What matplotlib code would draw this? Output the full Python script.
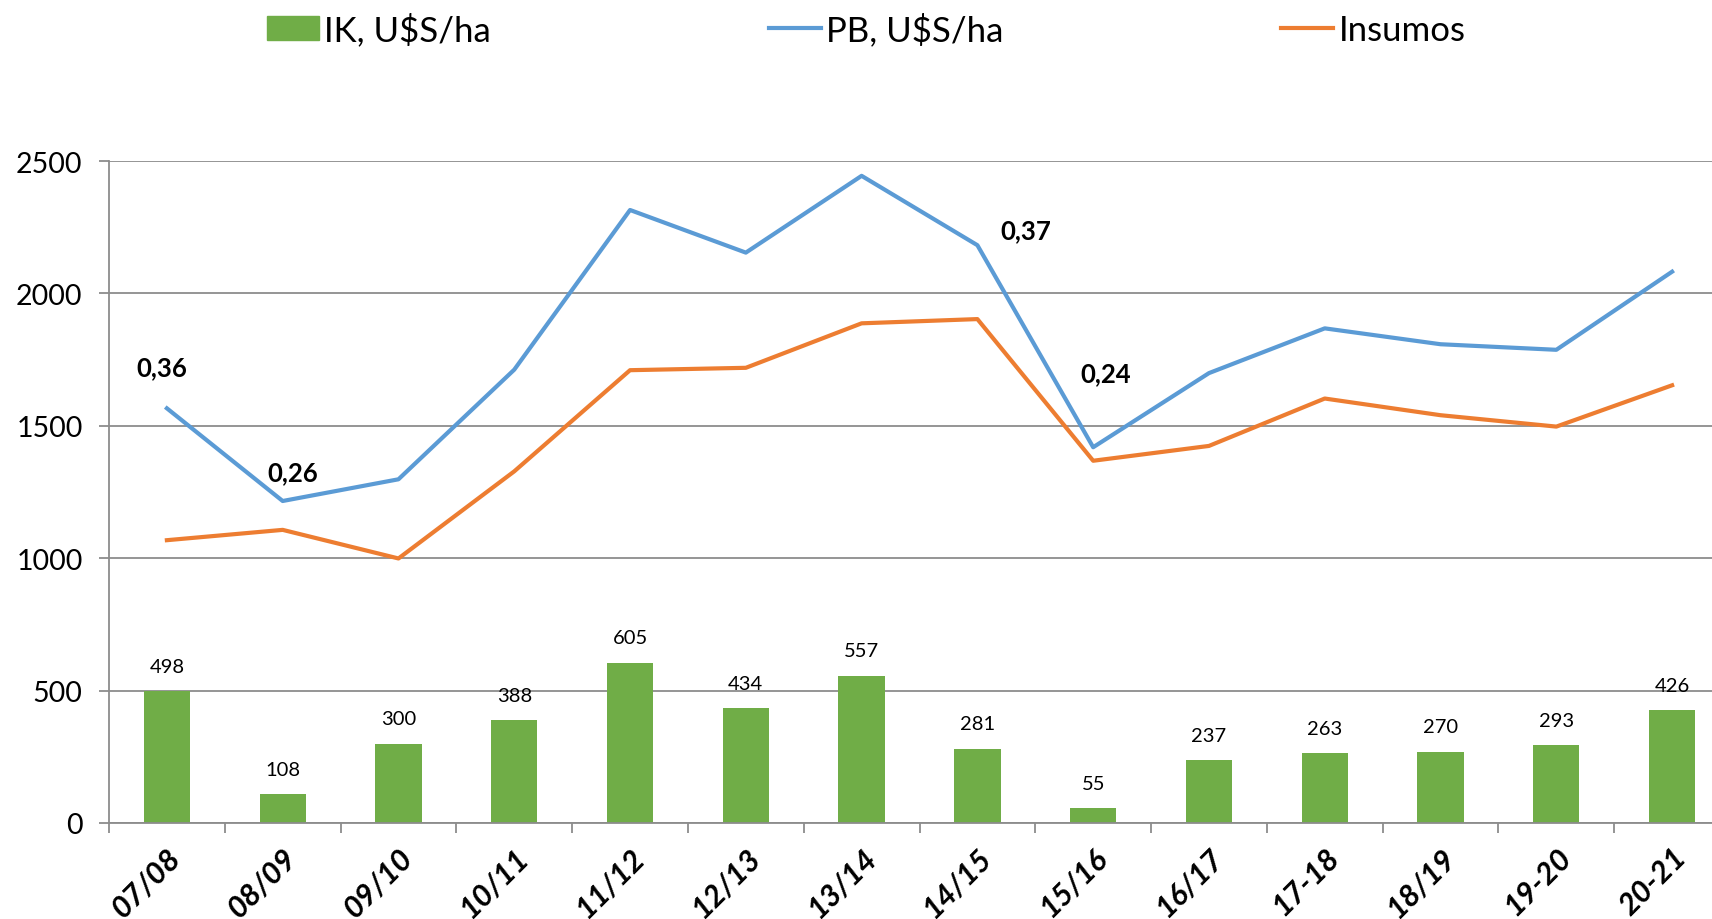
import numpy as np
import matplotlib.pyplot as plt
from matplotlib.patches import Patch
from matplotlib.lines import Line2D

plt.rcParams['font.family'] = ['Lato', 'DejaVu Sans']

# data
campaigns = ["07/08", "08/09", "09/10", "10/11", "11/12", "12/13", "13/14",
             "14/15", "15/16", "16/17", "17-18", "18/19", "19-20", "20-21"]
ik = [498, 108, 300, 388, 605, 434, 557, 281, 55, 237, 263, 270, 293, 426]
pb = [1566, 1216, 1298, 1712, 2315, 2154, 2444, 2182, 1419, 1699, 1868, 1808, 1787, 2082]
insumos = [1068, 1107, 999, 1328, 1710, 1719, 1887, 1903, 1368, 1424, 1603, 1540, 1497, 1653]
ratio_labels = ["0,36", "0,26", "0,37", "0,24"]
ratio_idx = [0, 1, 7, 8]

GREEN = "#70AD47"
BLUE = "#5B9BD5"
ORANGE = "#ED7D31"
GRID = "#8c8c8c"

fig = plt.figure(figsize=(17.12, 9.2), dpi=100)
# axes run slightly past the right border, as in the reference
ax = fig.add_axes([109 / 1712, 96 / 920, 1621 / 1712, 662 / 920])

x = np.arange(len(campaigns))
bars = ax.bar(x, ik, width=0.4, color=GREEN, zorder=2)
ax.plot(x, pb, color=BLUE, lw=3, zorder=3)
ax.plot(x, insumos, color=ORANGE, lw=3, zorder=3)

for xi, v in zip(x, ik):
    ax.annotate(str(v), (xi, v), xytext=(0, 18), textcoords="offset points",
                ha="center", va="center", fontsize=14.5)

# ratio annotations near the blue line (offsets in points)
offsets = [(-4, 30), (7, 21), (35, 11), (9, 53)]
for lab, i, off in zip(ratio_labels, ratio_idx, offsets):
    ax.annotate(lab, (x[i], pb[i]), xytext=off, textcoords="offset points",
                ha="center", va="center", fontsize=18.5, fontweight="bold")

ax.set_xlim(-0.5, len(campaigns) - 0.5)
ax.set_ylim(0, 2500)
ax.set_yticks([0, 500, 1000, 1500, 2000, 2500])
ax.yaxis.grid(True, color=GRID, lw=1.3, zorder=0)
ax.set_axisbelow(True)

ax.set_xticks(x)
ax.set_xticklabels(campaigns, rotation=45, ha="right", va="top",
                   rotation_mode="anchor", fontsize=22, fontweight="bold",
                   fontstyle="italic")
ax.set_xticks(np.arange(-0.5, len(campaigns), 1), minor=True)
ax.tick_params(axis="x", which="major", length=0, pad=14)
ax.tick_params(axis="x", which="minor", length=7, color=GRID, width=1.3)
ax.tick_params(axis="y", length=7, color=GRID, width=1.3, pad=12, labelsize=20.5)

for s in ["top", "right"]:
    ax.spines[s].set_visible(False)
ax.spines["left"].set_color(GRID)
ax.spines["bottom"].set_color(GRID)
ax.spines["left"].set_linewidth(1.3)
ax.spines["bottom"].set_linewidth(1.3)

handles = [Patch(color=GREEN), Line2D([], [], color=BLUE, lw=3),
           Line2D([], [], color=ORANGE, lw=3)]
fig.legend(handles, ["IK, U$S/ha", "PB, U$S/ha", "Insumos"], ncol=3,
           loc="center", bbox_to_anchor=(0.506, 0.967), frameon=False,
           fontsize=25, handlelength=1.5, handleheight=0.7, handletextpad=0.15,
           columnspacing=8.0)

fig.savefig("out.png", dpi=100)
